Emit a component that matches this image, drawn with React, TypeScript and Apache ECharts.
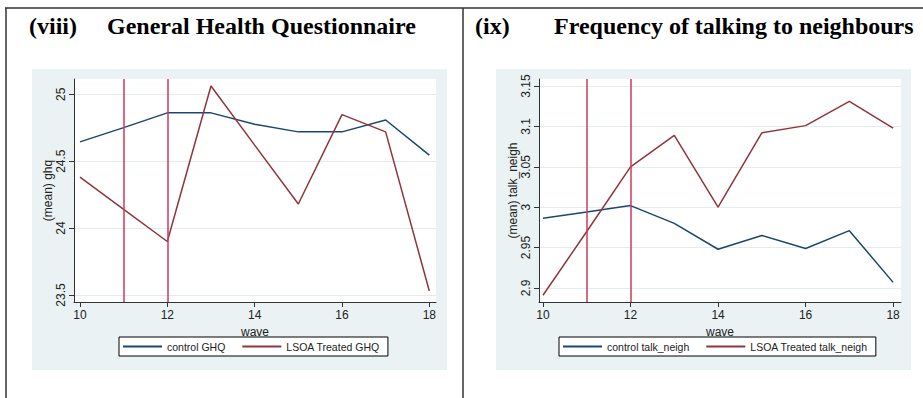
import React, { useEffect, useRef } from "react";
import * as echarts from "echarts";

const waves = [10, 11, 12, 13, 14, 15, 16, 17, 18];
const ghqControl = [24.644, 24.751, 24.861, 24.861, 24.776, 24.719, 24.719, 24.808, 24.545];
const ghqTreated = [24.381, 24.14, 23.9, 25.062, 24.62, 24.18, 24.848, 24.719, 23.53];
const talkControl = [2.9865, 2.994, 3.002, 2.98, 2.948, 2.965, 2.949, 2.971, 2.907];
const talkTreated = [2.891, 2.97, 3.05, 3.089, 3.0, 3.092, 3.101, 3.131, 3.098];
const ghqTicks = [23.5, 24, 24.5, 25];
const talkTicks = [2.9, 2.95, 3, 3.05, 3.1, 3.15];
const waveTicks = [10, 12, 14, 16, 18];
const treatmentWaves = [11, 12];
const ghqNames = ["control GHQ", "LSOA Treated GHQ"];
const talkNames = ["control talk_neigh", "LSOA Treated talk_neigh"];

const BLUE = "#1a476f";
const RED = "#90353b";
const VLINE = "#cc3a5c";
const PANEL = "#eaf2f3";
const FONT = "'Liberation Sans', Arial, sans-serif";

function pairs(vals: number[]) {
  return waves.map((w, i) => [w, vals[i]]);
}

function xAxisCfg(gridIndex: number, min: number, max: number) {
  return {
    type: "value",
    gridIndex,
    min,
    max,
    name: "wave",
    nameLocation: "middle",
    nameGap: 13,
    nameTextStyle: { fontFamily: FONT, fontSize: 12, color: "#222" },
    axisLine: { show: true, onZero: false, lineStyle: { color: "#333", width: 1 } },
    axisTick: { show: true, length: 5, customValues: waveTicks, lineStyle: { color: "#333" } },
    axisLabel: { customValues: waveTicks, margin: 7, fontFamily: FONT, fontSize: 12, color: "#222" },
    splitLine: { show: false },
  };
}

function yAxisCfg(gridIndex: number, min: number, max: number, ticks: number[], name: string) {
  return {
    type: "value",
    gridIndex,
    min,
    max,
    name,
    nameLocation: "middle",
    nameRotate: 90,
    nameGap: 17,
    nameTextStyle: { fontFamily: FONT, fontSize: 12, color: "#222" },
    axisLine: { show: true, onZero: false, lineStyle: { color: "#333", width: 1 } },
    axisTick: { show: true, length: 5, customValues: ticks, lineStyle: { color: "#333" } },
    axisLabel: { customValues: ticks, rotate: 90, margin: 7, fontFamily: FONT, fontSize: 12, color: "#222" },
    splitLine: { show: true, lineStyle: { color: "#e3ecee", width: 1 } },
  };
}

function vlines() {
  return {
    silent: true,
    symbol: ["none", "none"],
    label: { show: false },
    lineStyle: { color: VLINE, width: 1.5, type: "solid" },
    data: treatmentWaves.map((w) => ({ xAxis: w })),
  };
}

function legendCfg(left: number, names: string[]) {
  return {
    left,
    top: 337,
    orient: "horizontal",
    data: names,
    icon: "rect",
    itemWidth: 39,
    itemHeight: 2,
    itemGap: 17,
    padding: [4, 8, 4, 4],
    borderColor: "#000",
    borderWidth: 1,
    backgroundColor: "#fff",
    textStyle: { fontFamily: FONT, fontSize: 10.5, color: "#222", lineHeight: 11 },
  };
}

export default function App() {
  const ref = useRef<HTMLDivElement>(null);
  useEffect(() => {
    if (!ref.current) return;
    const chart = echarts.init(ref.current, undefined, { renderer: "svg" });
    const option: any = {
      animation: false,
      backgroundColor: "#fff",
      grid: [
        { left: 74, top: 79, width: 362, height: 223, show: true, backgroundColor: "#fff", borderWidth: 0 },
        { left: 539, top: 79, width: 362, height: 223, show: true, backgroundColor: "#fff", borderWidth: 0 },
      ],
      xAxis: [xAxisCfg(0, 9.863, 18.153), xAxisCfg(1, 9.909, 18.18)],
      yAxis: [
        yAxisCfg(0, 23.448, 25.114, ghqTicks, "(mean) ghq"),
        yAxisCfg(1, 2.8827, 3.1587, talkTicks, "(mean) talk_neigh"),
      ],
      legend: [legendCfg(119, ghqNames), legendCfg(559, talkNames)],
      series: [
        {
          name: ghqNames[0], type: "line", xAxisIndex: 0, yAxisIndex: 0, showSymbol: false,
          lineStyle: { color: BLUE, width: 1.5 }, itemStyle: { color: BLUE }, data: pairs(ghqControl),
        },
        {
          name: ghqNames[1], type: "line", xAxisIndex: 0, yAxisIndex: 0, showSymbol: false,
          lineStyle: { color: RED, width: 1.5 }, itemStyle: { color: RED }, data: pairs(ghqTreated),
          markLine: vlines(),
        },
        {
          name: talkNames[0], type: "line", xAxisIndex: 1, yAxisIndex: 1, showSymbol: false,
          lineStyle: { color: BLUE, width: 1.5 }, itemStyle: { color: BLUE }, data: pairs(talkControl),
        },
        {
          name: talkNames[1], type: "line", xAxisIndex: 1, yAxisIndex: 1, showSymbol: false,
          lineStyle: { color: RED, width: 1.5 }, itemStyle: { color: RED }, data: pairs(talkTreated),
          markLine: vlines(),
        },
      ],
      graphic: [
        { type: "rect", z: -10, shape: { x: 32, y: 69, width: 415, height: 301 }, style: { fill: PANEL } },
        { type: "rect", z: -10, shape: { x: 496, y: 69, width: 415, height: 301 }, style: { fill: PANEL } },
        { type: "line", shape: { x1: 5, y1: 8, x2: 923, y2: 8 }, style: { stroke: "#333", lineWidth: 1.5 } },
        { type: "line", shape: { x1: 6, y1: 8, x2: 6, y2: 398 }, style: { stroke: "#333", lineWidth: 1.5 } },
        { type: "line", shape: { x1: 463, y1: 8, x2: 463, y2: 398 }, style: { stroke: "#333", lineWidth: 1.5 } },
        {
          type: "text", x: 29, y: 26,
          style: { text: "(viii)", font: "bold 24px 'Liberation Serif', 'Times New Roman', serif", fill: "#000", verticalAlign: "middle" },
        },
        {
          type: "text", x: 107, y: 26,
          style: { text: "General Health Questionnaire", font: "bold 24px 'Liberation Serif', 'Times New Roman', serif", fill: "#000", verticalAlign: "middle" },
        },
        {
          type: "text", x: 475, y: 26,
          style: { text: "(ix)", font: "bold 24px 'Liberation Serif', 'Times New Roman', serif", fill: "#000", verticalAlign: "middle" },
        },
        {
          type: "text", x: 554, y: 26,
          style: { text: "Frequency of talking to neighbours", font: "bold 24px 'Liberation Serif', 'Times New Roman', serif", fill: "#000", verticalAlign: "middle" },
        },
      ],
    };
    chart.setOption(option);
    return () => chart.dispose();
  }, []);
  return (
    <div
      ref={ref}
      style={{ position: "absolute", left: 0, top: 0, width: 923, height: 398 }}
    />
  );
}
